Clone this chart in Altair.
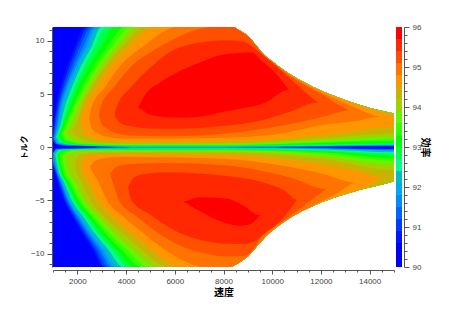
import altair as alt
import pandas as pd

BAND_COLORS = ["#0000ff", "#0000ff", "#0014ff", "#003cff", "#0064ff", "#008cff", "#00aaf0", "#00bcc0",
               "#00ff8c", "#00ff46", "#00ff00", "#32ff00", "#64f500", "#a0d200", "#c8b400", "#ff9600",
               "#ff7300", "#ff5000", "#ff2800", "#ff0000"]
BAND_START = [round(90 + 0.3 * i, 1) for i in range(20)]
BAND_END = [round(90.3 + 0.3 * i, 1) for i in range(20)]

ENV_TOP = [(8347, 11.32), (8688, 10.94), (9030, 10.41), (9303, 9.69), (9645, 8.74), (9986, 8.11), (10533, 7.17),
           (11216, 6.23), (12035, 5.28), (12855, 4.56), (13538, 4.03), (14358, 3.49), (15000, 3.18)]
ENV_BOT = [(8279, -11.25), (8620, -10.88), (9030, -10.19), (9372, -9.31), (9713, -8.43), (10260, -7.37),
           (10943, -6.33), (11490, -5.7), (12035, -5.17), (12855, -4.51), (13538, -4.04), (14358, -3.6),
           (15000, -3.2)]

T_ROWS = [1.85, 3.74, 5.63, 7.5, 9.4, 11.32]
T_ROWS_HI = [3.74, 5.63, 7.5, 9.4, 11.32]
B_ROWS = [-2.1, -3.35, -5.0, -6.49, -8.06, -9.62, -11.25]


def rows(xs, ys):
    return list(zip(xs, ys))


TOP_UP = {
    0: [(1000, 11.32)] + ENV_TOP,
    2: [(1000, 1.4)] + rows([1110, 1290, 1560, 1880, 2300], T_ROWS_HI) + ENV_TOP,
    3: [(1000, 0.9)] + rows([1041, 1178, 1384, 1658, 1986, 2439], T_ROWS) + ENV_TOP,
    4: [(1010, 0.8)] + rows([1082, 1219, 1452, 1754, 2096, 2576], T_ROWS) + ENV_TOP,
    5: [(1030, 0.8)] + rows([1137, 1274, 1521, 1849, 2233, 2685], T_ROWS) + ENV_TOP,
    6: [(1060, 0.85)] + rows([1178, 1329, 1589, 1932, 2343, 2781], T_ROWS) + ENV_TOP,
    7: [(1090, 0.9)] + rows([1219, 1397, 1685, 2027, 2452, 2891], T_ROWS) + ENV_TOP,
    8: [(1130, 0.95)] + rows([1274, 1480, 1781, 2123, 2576, 2987], T_ROWS) + ENV_TOP,
    9: [(1180, 1.0)] + rows([1329, 1575, 1890, 2260, 2720, 3192], T_ROWS) + ENV_TOP,
    10: [(1240, 1.05)] + rows([1384, 1685, 2027, 2440, 2959, 3535], T_ROWS) + ENV_TOP,
    11: [(1320, 1.15)] + rows([1452, 1795, 2190, 2650, 3220, 3946], T_ROWS) + ENV_TOP,
    12: [(1420, 1.3)] + rows([1548, 1890, 2320, 2790, 3400, 4220], T_ROWS) + ENV_TOP,
    13: [(1560, 1.5)] + rows([1685, 2027, 2450, 2950, 3620, 4494], T_ROWS) + ENV_TOP,
    14: [(1780, 1.7)] + rows([1890, 2165, 2590, 3110, 3820, 4768], T_ROWS) + ENV_TOP,
    15: [(2130, 2.6)] + rows([2302, 2800, 3330, 4100, 5179], T_ROWS_HI) + ENV_TOP[:11]
        + [(14358, 3.35), (15000, 2.9)],
    16: [(2480, 2.6)] + rows([2576, 3130, 3700, 4650, 6138], T_ROWS_HI) + ENV_TOP[:6]
        + [(10533, 7.12), (11216, 6.15), (12035, 5.15), (12855, 4.3), (13538, 3.6), (13950, 3.18), (14426, 2.86)],
    17: [(2890, 2.9)] + rows([2945, 3500, 4170, 5350, 7713], T_ROWS_HI)
        + [(8347, 11.32), (8690, 10.9), (9030, 10.35), (9303, 9.6), (9645, 8.65), (9986, 8.0), (10533, 7.0),
           (11216, 6.0), (12035, 4.97), (12582, 4.18), (13155, 3.46)],
    18: [(3534, 2.85), (3603, 3.74), (4200, 5.63), (5000, 7.5), (6206, 9.4), (8055, 10.06), (8757, 9.94),
         (9576, 8.74), (9986, 7.96), (10533, 6.86), (11216, 5.44), (11871, 4.2)],
    19: [(4490, 3.7), (4800, 5.0), (5384, 6.07), (6068, 7.0), (7027, 7.96), (8055, 8.74), (9167, 8.9),
         (9576, 8.11), (10123, 7.0), (10670, 5.4)],
}
TOP_LOW = {
    2: [(1000, 0.5), (1090, 0.3), (1550, 0.1), (4288, 0.002), (8055, 0.002), (12172, 0.03), (15000, 0.07)],
    3: [(1000, 0.52), (1110, 0.32), (1600, 0.12), (4288, 0.004), (8055, 0.004), (12172, 0.05), (15000, 0.1)],
    4: [(1010, 0.8), (1130, 0.34), (1650, 0.14), (4288, 0.006), (8055, 0.006), (12172, 0.06), (15000, 0.12)],
    5: [(1030, 0.8), (1150, 0.36), (1700, 0.16), (4288, 0.01), (8055, 0.01), (12172, 0.08), (15000, 0.14)],
    6: [(1060, 0.85), (1164, 0.38), (1753, 0.18), (4288, 0.02), (8055, 0.02), (12172, 0.1), (15000, 0.17)],
    7: [(1090, 0.9), (1205, 0.41), (1822, 0.2), (4288, 0.04), (8055, 0.04), (12172, 0.12), (15000, 0.2)],
    8: [(1130, 0.95), (1274, 0.47), (1890, 0.22), (4288, 0.07), (8055, 0.07), (12172, 0.15), (15000, 0.25)],
    9: [(1180, 1.0), (1342, 0.5), (1959, 0.24), (4288, 0.09), (8055, 0.1), (12172, 0.2), (15000, 0.31)],
    10: [(1240, 1.05), (1411, 0.57), (2027, 0.26), (4288, 0.13), (8055, 0.14), (12172, 0.3), (15000, 0.41)],
    11: [(1320, 1.15), (1480, 0.63), (2096, 0.3), (4288, 0.16), (8055, 0.17), (12172, 0.42), (15000, 0.57)],
    12: [(1420, 1.3), (1500, 0.9), (1650, 0.66), (2233, 0.35), (4288, 0.19), (8055, 0.2), (12172, 0.5), (15000, 0.72)],
    13: [(1560, 1.5), (1620, 1.1), (1850, 0.75), (2370, 0.41), (4288, 0.25), (8055, 0.27), (12172, 0.66), (15000, 0.97)],
    14: [(1780, 1.7), (1850, 1.3), (2070, 0.95), (2644, 0.5), (4288, 0.35), (8055, 0.38), (12172, 0.85), (15000, 1.29)],
    15: [(2130, 2.6), (2210, 1.75), (2440, 1.1), (2918, 0.68), (4288, 0.5), (8055, 0.55), (10806, 0.88), (12855, 1.35), (15000, 1.92)],
    16: [(2480, 2.6), (2575, 1.85), (2850, 1.3), (3300, 0.95), (4288, 0.79), (8055, 0.9), (10123, 1.2), (12172, 2.14), (13538, 2.5), (14426, 2.86)],
    17: [(2890, 2.9), (2986, 2.2), (3300, 1.65), (3740, 1.25), (4288, 1.1), (5658, 1.04), (8055, 1.3), (9440, 1.67), (10806, 2.2), (12172, 2.92), (13155, 3.46)],
    18: [(3534, 2.85), (3740, 2.3), (4288, 1.92), (5384, 1.73), (7027, 1.82), (8055, 2.02), (9440, 2.45), (10806, 3.4), (11871, 4.2)],
    19: [(4490, 3.7), (4972, 3.08), (6068, 2.77), (7027, 2.86), (8055, 3.35), (8893, 3.71), (9713, 4.18), (10670, 5.4)],
}
BOT_DN = {
    0: [(1000, -11.25)] + ENV_BOT,
    2: [(1000, -1.9), (1040, -2.1), (1206, -3.35), (1450, -5.0), (1790, -6.49), (2190, -8.06), (2630, -9.62), (3020, -11.25)] + ENV_BOT,
    3: [(1000, -1.7)] + rows([1068, 1247, 1500, 1850, 2270, 2712, 3124], B_ROWS) + ENV_BOT,
    4: [(1000, -1.5)] + rows([1096, 1288, 1550, 1920, 2343, 2808, 3261], B_ROWS) + ENV_BOT,
    5: [(1000, -1.3)] + rows([1123, 1329, 1600, 1990, 2425, 2918, 3398], B_ROWS) + ENV_BOT,
    6: [(1020, -0.55)] + rows([1151, 1370, 1650, 2060, 2507, 3028, 3535], B_ROWS) + ENV_BOT,
    7: [(1050, -0.57)] + rows([1178, 1411, 1710, 2140, 2603, 3137, 3672], B_ROWS) + ENV_BOT,
    8: [(1090, -0.6)] + rows([1219, 1466, 1780, 2230, 2712, 3274, 3877], B_ROWS) + ENV_BOT,
    9: [(1137, -0.63)] + rows([1260, 1521, 1850, 2330, 2836, 3439, 4083], B_ROWS) + ENV_BOT,
    10: [(1192, -0.66)] + rows([1315, 1589, 1940, 2440, 2986, 3603, 4357], B_ROWS) + ENV_BOT,
    11: [(1274, -0.69)] + rows([1384, 1671, 2040, 2560, 3137, 3809, 4631], B_ROWS) + ENV_BOT,
    12: [(1384, -0.75)] + rows([1480, 1781, 2150, 2700, 3302, 4014, 4905], B_ROWS) + ENV_BOT,
    13: [(1520, -0.8)] + rows([1616, 1945, 2301, 2860, 3534, 4288, 5247], B_ROWS) + ENV_BOT,
    14: [(1890, -1.16), (1945, -2.1), (2178, -3.35), (2534, -5.0), (3082, -6.49), (3850, -8.06), (4630, -9.62), (5727, -11.25)] + ENV_BOT,
    15: [(2164, -1.47), (2200, -2.1), (2480, -3.35), (2850, -5.0), (3425, -6.49), (4220, -8.06), (5042, -9.62), (6206, -11.25)]
        + ENV_BOT[:11] + [(14084, -3.5), (14494, -2.79)],
    16: [(2507, -1.79), (2575, -2.1), (2890, -3.35), (3219, -5.0), (3877, -6.49), (4699, -8.06), (5590, -9.62), (7302, -11.25)]
        + ENV_BOT[:8] + [(12172, -4.9), (12855, -4.04), (13333, -3.29)],
    17: [(3329, -2.4), (3466, -3.35), (3713, -5.0), (4425, -6.49), (5315, -8.06), (6275, -9.3), (7302, -10.0), (8055, -10.25),
         (8757, -10.25), (9303, -9.37), (9508, -8.5), (10533, -6.8), (12213, -3.92)],
    18: [(4082, -3.67), (4220, -5.0), (4973, -6.3), (5932, -7.75), (7027, -8.7), (8055, -9.06), (8800, -9.1), (9300, -8.8),
         (9713, -8.06), (10260, -7.1), (11011, -4.92)],
    19: [(6343, -5.08), (6800, -5.7), (8055, -7.1), (8620, -7.37), (9030, -7.27), (9508, -6.39)],
}
BOT_HI = {
    2: [(1000, -0.45), (1090, -0.11), (1550, -0.08), (4288, -0.002), (8055, -0.002), (12172, -0.04), (15000, -0.1)],
    3: [(1000, -0.47), (1110, -0.13), (1600, -0.1), (4288, -0.004), (8055, -0.004), (12172, -0.06), (15000, -0.14)],
    4: [(1000, -0.5), (1130, -0.15), (1650, -0.12), (4288, -0.006), (8055, -0.006), (12172, -0.08), (15000, -0.18)],
    5: [(1000, -0.53), (1150, -0.17), (1700, -0.14), (4288, -0.01), (8055, -0.01), (12172, -0.1), (15000, -0.22)],
    6: [(1020, -0.55), (1164, -0.19), (1753, -0.15), (4288, -0.02), (8055, -0.02), (12172, -0.12), (15000, -0.28)],
    7: [(1050, -0.57), (1205, -0.21), (1822, -0.16), (4288, -0.05), (8055, -0.05), (12172, -0.15), (15000, -0.34)],
    8: [(1090, -0.6), (1274, -0.24), (1890, -0.17), (8055, -0.1), (12172, -0.2), (15000, -0.47)],
    9: [(1137, -0.63), (1342, -0.27), (1959, -0.19), (8055, -0.14), (12172, -0.28), (15000, -0.6)],
    10: [(1192, -0.66), (1411, -0.31), (2027, -0.21), (8055, -0.19), (12172, -0.38), (15000, -0.78)],
    11: [(1274, -0.69), (1480, -0.38), (2096, -0.24), (8055, -0.24), (12172, -0.5), (15000, -1.0)],
    12: [(1384, -0.75), (1616, -0.41), (2233, -0.28), (8055, -0.28), (12172, -0.65), (15000, -1.25)],
    13: [(1520, -0.8), (1890, -0.47), (2644, -0.35), (8055, -0.35), (12172, -0.85), (15000, -1.63)],
    14: [(1890, -1.16), (2096, -0.69), (2918, -0.47), (8055, -0.47), (12172, -1.1), (15000, -2.16)],
    15: [(2164, -1.47), (2300, -1.0), (2600, -0.75), (3192, -0.69), (8055, -0.75), (10806, -1.25), (13538, -2.26), (14494, -2.79)],
    16: [(2507, -1.79), (2712, -1.3), (2918, -1.1), (3877, -0.9), (8055, -1.1), (10123, -1.63), (12172, -2.57), (13333, -3.29)],
    17: [(3329, -2.4), (3534, -1.94), (3877, -1.65), (4288, -1.57), (5658, -1.47), (8055, -1.7), (9440, -2.16), (10806, -2.88), (12213, -3.92)],
    18: [(4082, -3.67), (4288, -2.88), (4836, -2.48), (5658, -2.35), (8055, -2.68), (9713, -3.35), (10533, -4.1), (11011, -4.92)],
    19: [(6343, -5.08), (7027, -4.7), (8055, -4.8), (8757, -5.39), (9508, -6.39)],
}

X_TICKS = list(range(1000, 15001, 500))
Y_TICKS = list(range(-11, 12))
C_TICKS = [round(90 + 0.2 * i, 1) for i in range(31)]
SEAM = 40  # speed units: a pass-2 strip runs this far past a contour's ends, hiding its vertical edge

records = []
key = 0


def add(curve, color, seam=False):
    global key
    key += 1
    if seam:
        curve = [(curve[0][0] - SEAM, curve[0][1])] + curve + [(curve[-1][0] + SEAM, curve[-1][1])]
    for x, y in curve:
        records.append({"x": x, "y": y, "base": 0, "k": key, "c": color})


for lv in sorted(TOP_UP):
    add(TOP_UP[lv], BAND_COLORS[lv])
for lv in sorted(TOP_LOW, reverse=True):
    add(TOP_LOW[lv], BAND_COLORS[lv - 1], seam=True)
for lv in sorted(BOT_DN):
    add(BOT_DN[lv], BAND_COLORS[lv])
for lv in sorted(BOT_HI, reverse=True):
    add(BOT_HI[lv], BAND_COLORS[lv - 1], seam=True)

df = pd.DataFrame(records)

AX = dict(grid=False, domainColor="#555555", tickColor="#555555", labelColor="#444444", labelFont="Liberation Sans",
          labelFontSize=8, titleFont="Noto Sans CJK JP", titleColor="#000000",
          tickWidth=1, domainWidth=1, labelOverlap=False)

main = alt.Chart(df).mark_area(clip=True, interpolate="monotone", strokeWidth=0).encode(
    x=alt.X("x:Q", scale=alt.Scale(domain=[1000, 15000], nice=False, zero=False),
            axis=alt.Axis(values=X_TICKS, title="速度", format="d", titlePadding=2, labelPadding=3, offset=3,
                          titleFontSize=10, titleFontWeight="bold",
                          labelExpr="datum.value % 2000 === 0 ? datum.label : ''",
                          tickSize={"condition": {"test": "datum.value % 2000 === 0", "value": 4}, "value": 2}, **AX)),
    y=alt.Y("y:Q", stack=None, scale=alt.Scale(domain=[-11.25, 11.3], nice=False, zero=False),
            axis=alt.Axis(values=Y_TICKS, title="トルク", format="d", titlePadding=2, labelPadding=3, offset=1,
                          titleFontSize=8, titleFontWeight="bold",
                          labelExpr="datum.value % 5 === 0 ? datum.label : ''",
                          tickSize={"condition": {"test": "datum.value % 5 === 0", "value": 5}, "value": 3}, **AX)),
    y2="base:Q",
    color=alt.Color("c:N", scale=None),
    detail="k:N",
).properties(width=341, height=240)

bar_df = pd.DataFrame({"s": BAND_START, "e": BAND_END, "c": BAND_COLORS})
bar = alt.Chart(bar_df).mark_rect().encode(
    x=alt.value(0), x2=alt.value(6),
    y=alt.Y("s:Q", scale=alt.Scale(domain=[90, 96], nice=False, zero=False),
            axis=alt.Axis(orient="right", values=C_TICKS, title="効率", titleAngle=90, titlePadding=-1, labelPadding=3,
                          titleFontSize=10, titleFontWeight="bold",
                          labelExpr="abs(datum.value - round(datum.value)) < 0.01 ? format(round(datum.value), 'd') : ''",
                          tickSize={"condition": {"test": "abs(datum.value - round(datum.value)) < 0.01", "value": 5}, "value": 3},
                          **AX)),
    y2="e:Q",
    color=alt.Color("c:N", scale=None),
).properties(width=8, height=240)

chart = alt.hconcat(main, bar, spacing=1, padding={"left": 12, "top": 15, "right": 10, "bottom": 0}).configure_view(stroke=None)
chart.save("out.html", embed_options={"renderer": "svg", "actions": False})
